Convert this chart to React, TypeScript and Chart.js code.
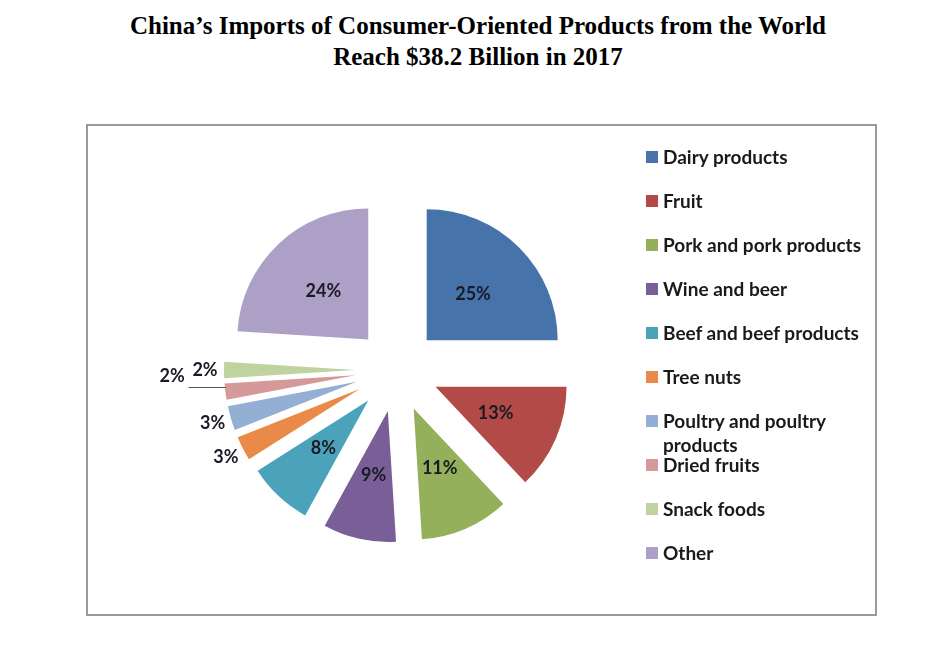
import React, { useEffect, useRef } from 'react';
import { Chart, registerables, ArcElement } from 'chart.js';

Chart.register(...registerables);

// ---- Data ----
const titleLines = [
  'China\u2019s Imports of Consumer-Oriented Products from the World',
  'Reach $38.2 Billion in 2017',
];
const categories = [
  'Dairy products',
  'Fruit',
  'Pork and pork products',
  'Wine and beer',
  'Beef and beef products',
  'Tree nuts',
  'Poultry and poultry\nproducts',
  'Dried fruits',
  'Snack foods',
  'Other',
];
const shares = [25, 13, 11, 9, 8, 3, 3, 2, 2, 24];
const colors = [
  '#4674AA', '#B24B48', '#94B05B', '#7A5E98', '#4AA3BA',
  '#E98A48', '#94AFD4', '#D6999A', '#BFD3A0', '#ADA0C6',
];
const explode = [42, 42, 42, 42, 42, 42, 42, 42, 42, 42];
const labelPlacement = ['in', 'in', 'in', 'in', 'in', 'out', 'out', 'leader', 'out', 'in'];

// Exploded slices: translate whole slice without growing its radius
const baseDraw = ArcElement.prototype.draw;
if (!(ArcElement.prototype as any).__exploded) {
  (ArcElement.prototype as any).__exploded = true;
  ArcElement.prototype.draw = function (this: any, ctx: CanvasRenderingContext2D) {
    const opts = this.options;
    const off = opts && opts.offset ? opts.offset : 0;
    if (!off) return baseDraw.call(this, ctx);
    const half = (this.startAngle + this.endAngle) / 2;
    ctx.save();
    ctx.translate(Math.cos(half) * off, Math.sin(half) * off);
    this.options = Object.assign({}, opts, { offset: 0 });
    try {
      baseDraw.call(this, ctx);
    } finally {
      this.options = opts;
      ctx.restore();
    }
  } as any;
}

const labelPlugin = {
  id: 'pctLabels',
  afterDatasetsDraw(chart: any) {
    const ctx = chart.ctx as CanvasRenderingContext2D;
    const meta = chart.getDatasetMeta(0);
    ctx.save();
    ctx.font = 'bold 18px Lato';
    ctx.fillStyle = '#1a1a26';
    ctx.textAlign = 'center';
    ctx.textBaseline = 'middle';
    meta.data.forEach((arc: any, i: number) => {
      const { x, y, startAngle, endAngle, outerRadius } = arc;
      const mid = (startAngle + endAngle) / 2;
      const off = explode[i];
      const text = `${shares[i]}%`;
      const place = labelPlacement[i];
      if (place === 'in') {
        const d = off + outerRadius * 0.5;
        ctx.fillText(text, x + Math.cos(mid) * d, y + Math.sin(mid) * d);
      } else if (place === 'out') {
        const d = off + outerRadius + 19;
        ctx.fillText(text, x + Math.cos(mid) * d, y + Math.sin(mid) * d);
      } else {
        const a = mid + (5.5 * Math.PI) / 180;
        const d = off + outerRadius + 52;
        const lx = x + Math.cos(a) * d;
        const ly = y + Math.sin(a) * d;
        ctx.fillText(text, lx, ly);
        const w = ctx.measureText(text).width;
        const ea = mid + (2 * Math.PI) / 180;
        const ed = off + outerRadius - 1;
        const ex = x + Math.cos(ea) * ed;
        const ey = y + Math.sin(ea) * ed;
        ctx.strokeStyle = '#555';
        ctx.lineWidth = 1;
        ctx.beginPath();
        ctx.moveTo(lx + w / 2 + 4, Math.round(ey) + 1.5);
        ctx.lineTo(ex, Math.round(ey) + 1.5);
        ctx.stroke();
      }
    });
    ctx.restore();
  },
};

export default function App() {
  const canvasRef = useRef<HTMLCanvasElement | null>(null);

  useEffect(() => {
    if (!canvasRef.current) return;
    const chart = new Chart(canvasRef.current, {
      type: 'pie',
      data: {
        labels: categories,
        datasets: [
          {
            data: shares,
            backgroundColor: colors,
            borderWidth: 0,
            offset: explode,
            hoverOffset: 0,
          } as any,
        ],
      },
      options: {
        responsive: false,
        animation: false,
        events: [],
        radius: 131,
        layout: { padding: { left: 200, right: 340, top: 173, bottom: 80 } },
        plugins: {
          legend: { display: false },
          title: { display: false },
          tooltip: { enabled: false },
        },
      } as any,
      plugins: [labelPlugin],
    });
    return () => chart.destroy();
  }, []);

  return (
    <div
      style={{
        position: 'absolute',
        left: 0,
        top: 0,
        width: 934,
        height: 647,
        background: '#fff',
        overflow: 'hidden',
      }}
    >
      <div
        style={{
          position: 'absolute',
          top: 10,
          left: 11,
          width: 934,
          textAlign: 'center',
          fontFamily: '"Liberation Serif", "Times New Roman", serif',
          fontWeight: 'bold',
          fontSize: 25,
          lineHeight: '31px',
          color: '#000',
        }}
      >
        {titleLines.map((t, i) => (
          <div key={i}>{t}</div>
        ))}
      </div>
      <div
        style={{
          position: 'absolute',
          left: 86,
          top: 124,
          width: 791,
          height: 492,
          border: '2px solid #9a9a9a',
          boxSizing: 'border-box',
        }}
      />
      <canvas
        ref={canvasRef}
        width={934}
        height={647}
        style={{ position: 'absolute', left: 0, top: 0, width: 934, height: 647 }}
      />
      {categories.map((c, i) => (
        <div
          key={c}
          style={{
            position: 'absolute',
            left: 646,
            top: 145 + i * 44,
            fontFamily: 'Lato, sans-serif',
            fontWeight: 'bold',
            fontSize: 19,
            lineHeight: '24px',
            color: '#1a1a1a',
            whiteSpace: 'pre',
          }}
        >
          <span
            style={{
              position: 'absolute',
              left: 0,
              top: 6,
              width: 12,
              height: 12,
              background: colors[i],
            }}
          />
          <div style={{ marginLeft: 17 }}>{c}</div>
        </div>
      ))}
    </div>
  );
}
